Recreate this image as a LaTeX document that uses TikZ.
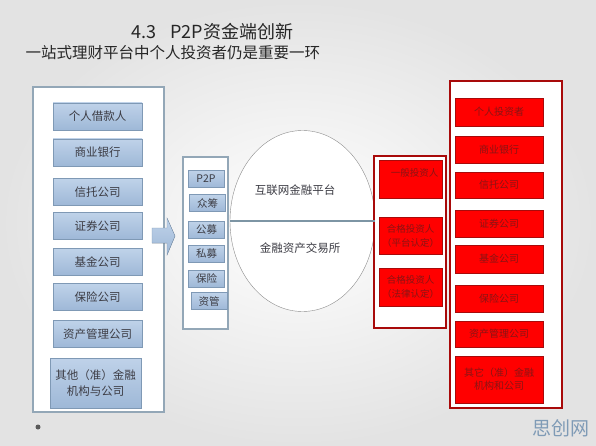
\documentclass[tikz,border=0pt]{standalone}
\usepackage{fontspec}
\setmainfont{Noto Sans CJK SC}
\usepackage{tikz}
\usetikzlibrary{shapes,arrows,positioning}
\usepackage{xcolor}
\definecolor{bluetop}{HTML}{BFD2E9}
\definecolor{bluebot}{HTML}{9EB8D7}
\definecolor{blueline}{HTML}{7F99B5}
\definecolor{frameblue}{HTML}{93A7B7}
\definecolor{boxtext}{HTML}{3C3C44}
\definecolor{redline}{HTML}{A80A0A}
\definecolor{redtext}{HTML}{8A1414}
\definecolor{ovalline}{HTML}{8C8C8C}
\definecolor{splitline}{HTML}{7D95A4}
\definecolor{markblue}{HTML}{7F9BB6}

\begin{document}
\begin{tikzpicture}[x=1pt,y=-1pt]
\tikzstyle{frame}=[rectangle, draw=frameblue, line width=1.2pt, fill=white, inner sep=0pt]
\tikzstyle{redframe}=[rectangle, draw=redline, line width=1.6pt, fill=white, inner sep=0pt]
\tikzstyle{bluebox}=[rectangle, draw=blueline, top color=bluetop, bottom color=bluebot, minimum width=89pt, minimum height=27pt, inner sep=1pt, align=center, text=boxtext, font=\fontsize{11.5}{16}\selectfont]
\tikzstyle{smallbox}=[rectangle, draw=blueline, top color=bluetop, bottom color=bluebot, minimum width=36pt, minimum height=17pt, inner sep=0pt, text=boxtext, font=\fontsize{10.5}{12}\selectfont]
\tikzstyle{redbox}=[rectangle, draw=redline, fill=red, minimum width=88pt, minimum height=27pt, inner sep=1pt, align=center, text=redtext, font=\fontsize{10}{13}\selectfont]
\tikzstyle{investor}=[redbox, minimum width=63pt, minimum height=38pt, font=\fontsize{9.5}{14}\selectfont]

% background
\useasboundingbox (0,0) rectangle (596,446);
\shade[inner color=white, outer color=gray!22] (0,0) rectangle (596,446);

% titles
\node[anchor=west, font=\fontsize{18}{20}\selectfont, text=black!85] (title) at (128,32) {4.3\hspace{14pt}P2P资金端创新};
\node[anchor=west, font=\fontsize{15.5}{18}\selectfont, text=black!85] (subtitle) at (22,53) {一站式理财平台中个人投资者仍是重要一环};

% frames
\node[frame, minimum width=131pt, minimum height=325pt] (funders) at (98.5,249.5) {};
\node[frame, minimum width=45pt, minimum height=172pt] (products) at (205.5,243) {};
\node[ellipse, draw=ovalline, fill=white, minimum width=145pt, minimum height=181pt] (platform) at (302.5,221) {};
\node[redframe, minimum width=72pt, minimum height=172pt] (levels) at (410,242) {};
\node[redframe, minimum width=112pt, minimum height=327pt] (investors) at (506,244.5) {};

% funding side
\node[bluebox] (borrower) at (97.5,116.5) {个人借款人};
\node[bluebox] (bank) at (97.5,152.5) {商业银行};
\node[bluebox] (trust) at (97.5,192) {信托公司};
\node[bluebox] (broker) at (97.5,226) {证券公司};
\node[bluebox] (fund) at (97.5,262) {基金公司};
\node[bluebox] (insurer) at (97.5,297) {保险公司};
\node[bluebox] (asset) at (97.5,334) {资产管理公司};
\node[bluebox, minimum width=91pt, minimum height=50pt] (others) at (95.5,383) {其他（准）金融\\机构与公司};

% arrow
\filldraw[draw=blueline, top color=bluetop, bottom color=bluebot] (152,228) -- (167,228) -- (167,218) -- (175,236) -- (167,255) -- (167,243) -- (152,243) -- cycle;

% products
\node[smallbox] (ptop) at (206,179) {P2P};
\node[smallbox] (crowd) at (207.5,203) {众筹};
\node[smallbox] (public) at (206.5,230) {公募};
\node[smallbox] (private) at (206.5,254) {私募};
\node[smallbox] (cover) at (206.5,278.5) {保险};
\node[smallbox] (manage) at (209,301) {资管};

% platform
\draw[splitline, line width=1.2pt] (platform.west) -- (platform.east);
\node[text=boxtext, font=\fontsize{11.5}{13}\selectfont] (online) at (295,190) {互联网金融平台};
\node[text=boxtext, font=\fontsize{11.5}{13}\selectfont] (exchange) at (300,248) {金融资产交易所};

% investor levels
\node[investor] (common) at (410.5,179) {\hspace{8pt}一般投资人\\~};
\node[investor, minimum height=37pt] (qualplat) at (410.5,235.5) {合格投资人\\（平台认定）};
\node[investor] (quallaw) at (410.5,287) {合格投资人\\（法律认定）};

% investor side
\node[redbox, minimum height=28pt] (person) at (499,112) {个人投资者};
\node[redbox] (rbank) at (499,149.5) {商业银行};
\node[redbox, minimum height=26pt] (rtrust) at (499,185) {信托公司};
\node[redbox] (rbroker) at (499,223.5) {证券公司};
\node[redbox, minimum height=28pt] (rfund) at (499,259) {基金公司};
\node[redbox] (rinsurer) at (499,298.5) {保险公司};
\node[redbox, minimum height=26pt] (rasset) at (499,334) {资产管理公司};
\node[redbox, minimum height=47pt] (rothers) at (499,379.5) {其它（准）金融\\机构和公司};

% footer
\fill[gray!70!black] (38,427) circle (2.5);
\node[anchor=east, text=markblue, font=\fontsize{19}{21}\selectfont] (mark) at (593,428) {思创网};
\end{tikzpicture}
\end{document}
